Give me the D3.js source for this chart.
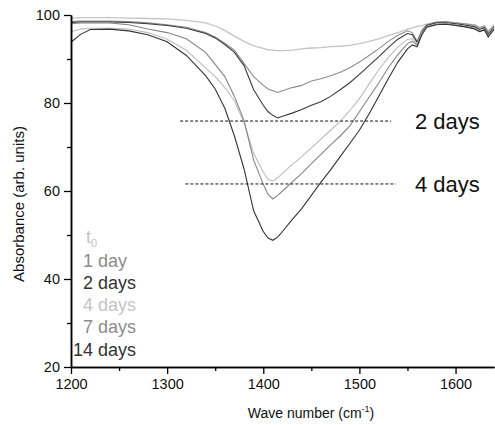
<!DOCTYPE html>
<html>
<head>
<meta charset="utf-8">
<script src="https://cdn.jsdelivr.net/npm/d3@7"></script>
<style>
  body { margin: 0; background: #fff; }
  svg { font-family: "Liberation Sans", Arial, sans-serif; }
</style>
</head>
<body>
<div id="chart"></div>
<script>
// wave numbers (cm-1) shared by every spectrum
const waveNumbers = [1200,1210,1220,1240,1260,1280,1300,1320,1340,1350,1360,1370,1380,1390,1400,1405,1410,1415,1420,1430,1440,1450,1460,1470,1480,1490,1500,1510,1520,1530,1540,1550,1555,1560,1565,1570,1580,1590,1600,1610,1620,1625,1630,1634,1640];

const t0     = [99.3,99.4,99.4,99.4,99.3,99.2,99.1,98.8,98.2,97.5,96.5,95.2,94.0,93.0,92.4,92.1,92.0,91.9,91.9,92.0,92.3,92.5,92.6,92.8,92.9,93.1,93.5,94.0,94.6,95.3,96.0,96.8,97.1,97.4,97.6,97.9,98.3,98.4,98.2,98.0,97.8,97.2,97.6,96.4,97.8];
const day1   = [98.5,98.6,98.6,98.6,98.5,98.2,97.8,97.2,96.0,95.0,93.6,92.0,89.0,86.0,84.0,83.2,82.8,82.4,82.8,83.5,84.0,85.0,85.5,86.2,87.0,88.0,89.3,90.8,92.3,94.0,95.4,96.4,96.0,94.0,96.5,97.8,98.4,98.5,98.2,98.0,97.6,97.0,97.4,96.0,97.5];
const day2   = [98.3,98.4,98.4,98.4,98.3,98.0,97.6,97.0,95.8,94.8,93.3,91.5,88.5,83.0,79.5,78.0,77.2,76.6,77.0,77.7,78.5,79.5,80.3,81.5,83.0,84.6,86.5,88.5,90.5,92.6,94.5,95.8,95.5,93.8,96.2,97.6,98.2,98.2,98.0,97.7,97.3,96.7,97.1,95.6,97.2];
const day4   = [96.2,96.8,97.0,97.0,96.8,96.0,94.5,92.0,88.0,86.0,83.5,80.5,75.5,68.5,64.3,62.6,62.3,63.0,64.0,66.0,67.8,69.8,71.8,73.8,75.8,78.3,81.0,84.3,87.5,90.3,92.7,94.5,94.6,93.5,96.0,97.4,98.0,98.1,97.8,97.5,97.0,96.4,96.8,95.3,96.9];
const day7   = [98.0,98.2,98.2,98.2,97.8,96.8,96.0,94.6,91.5,88.8,86.0,81.5,76.0,67.0,61.5,59.2,58.2,59.0,60.0,62.0,64.0,66.2,68.3,70.5,72.5,74.8,78.0,81.3,84.5,88.0,91.0,93.5,94.0,93.2,95.8,97.3,97.9,98.0,97.7,97.4,96.9,96.3,96.7,95.2,96.8];
const day14  = [93.8,95.6,96.7,96.8,96.4,95.5,93.9,90.8,86.2,83.2,78.8,72.5,65.0,55.5,50.8,49.3,48.8,49.5,50.8,53.5,56.0,59.0,62.0,64.8,67.8,70.8,73.8,77.5,81.5,85.5,89.3,92.3,93.2,92.8,95.5,97.2,97.8,97.9,97.6,97.3,96.8,96.2,96.6,95.0,96.7];

const seriesNames  = ["t0", "1 day", "2 days", "4 days", "7 days", "14 days"];
const seriesValues = [t0, day1, day2, day4, day7, day14];
const seriesColors = ["#c4c4c4", "#8c8c8c", "#3a3a3a", "#bdbdbd", "#858585", "#333333"];

const xTicks = [1200, 1300, 1400, 1500, 1600];
const xMinor = [1250, 1350, 1450, 1550];
const yTicks = [20, 40, 60, 80, 100];
const yMinor = [30, 50, 70, 90];

// horizontal dashed markers: level, start, end, label
const markerLevels = [75.9, 61.6];
const markerStart  = [1313.5, 1319];
const markerEnd    = [1533, 1538];
const markerLabels = ["2 days", "4 days"];

const width = 495, height = 425;
const margin = { top: 15, right: 1, bottom: 58, left: 71 };

const svg = d3.select("#chart").append("svg")
    .attr("width", width)
    .attr("height", height);

const x = d3.scaleLinear().domain([1200, 1640]).range([margin.left, width - margin.right]);
const y = d3.scaleLinear().domain([20, 100]).range([height - margin.bottom, margin.top]);

// spectra
const line = d3.line()
    .x((d, i) => x(waveNumbers[i]))
    .y(d => y(d));

svg.selectAll("path.spectrum")
    .data(seriesValues)
    .enter().append("path")
    .attr("class", "spectrum")
    .attr("fill", "none")
    .attr("stroke", (d, i) => seriesColors[i])
    .attr("stroke-width", (d, i) => i === 0 ? 1.3 : 1.1)
    .attr("d", line);

// dashed markers
markerLevels.forEach((lv, i) => {
    svg.append("line")
        .attr("x1", x(markerStart[i])).attr("x2", x(markerEnd[i]))
        .attr("y1", y(lv)).attr("y2", y(lv))
        .attr("stroke", "#111")
        .attr("stroke-width", 1)
        .attr("stroke-dasharray", "3,2");
    svg.append("text")
        .attr("x", 415)
        .attr("y", y(lv) + 8)
        .attr("font-size", 22)
        .attr("fill", "#111")
        .text(markerLabels[i]);
});

// axes
const styleAxis = g => {
    g.select(".domain").attr("stroke", "#000").attr("stroke-width", 1.5);
    g.selectAll(".tick line").attr("stroke", "#000").attr("stroke-width", 1.3);
    g.selectAll("text").attr("fill", "#111").attr("font-size", 14.5)
        .attr("font-family", "'Liberation Sans', Arial, sans-serif");
};

svg.append("g")
    .attr("transform", `translate(0,${height - margin.bottom})`)
    .call(d3.axisBottom(x).tickValues(xTicks).tickFormat(d3.format("d")).tickSize(7).tickSizeOuter(0).tickPadding(5))
    .call(styleAxis);
svg.append("g")
    .attr("transform", `translate(0,${height - margin.bottom})`)
    .call(d3.axisBottom(x).tickValues(xMinor).tickFormat("").tickSize(4).tickSizeOuter(0))
    .call(styleAxis);

svg.append("g")
    .attr("transform", `translate(${margin.left},0)`)
    .call(d3.axisLeft(y).tickValues(yTicks).tickSize(7).tickSizeOuter(0).tickPadding(4))
    .call(styleAxis);
svg.append("g")
    .attr("transform", `translate(${margin.left},0)`)
    .call(d3.axisLeft(y).tickValues(yMinor).tickFormat("").tickSize(4).tickSizeOuter(0))
    .call(styleAxis);

// axis titles
const xTitle = svg.append("text")
    .attr("x", 311).attr("y", 418)
    .attr("text-anchor", "middle")
    .attr("font-size", 14)
    .attr("fill", "#111");
xTitle.append("tspan").text("Wave number (cm");
xTitle.append("tspan").attr("font-size", 9).attr("dy", -6).text("-1");
xTitle.append("tspan").attr("dy", 6).text(")");

svg.append("text")
    .attr("transform", `translate(24,204) rotate(-90)`)
    .attr("text-anchor", "middle")
    .attr("font-size", 15)
    .attr("fill", "#111")
    .text("Absorbance (arb. units)");

// legend
const legendX = [86, 83, 83, 83, 83, 73];
const legendY = [243, 267, 289, 311, 333, 356];
const legendColors = ["#c4c4c4", "#8c8c8c", "#333333", "#c4c4c4", "#8c8c8c", "#333333"];

seriesNames.forEach((name, i) => {
    const t = svg.append("text")
        .attr("x", legendX[i]).attr("y", legendY[i])
        .attr("font-size", 18)
        .attr("fill", legendColors[i]);
    if (name === "t0") {
        t.append("tspan").text("t");
        t.append("tspan").attr("font-size", 11).attr("dy", 4).text("0");
    } else {
        t.text(name);
    }
});
</script>
</body>
</html>
